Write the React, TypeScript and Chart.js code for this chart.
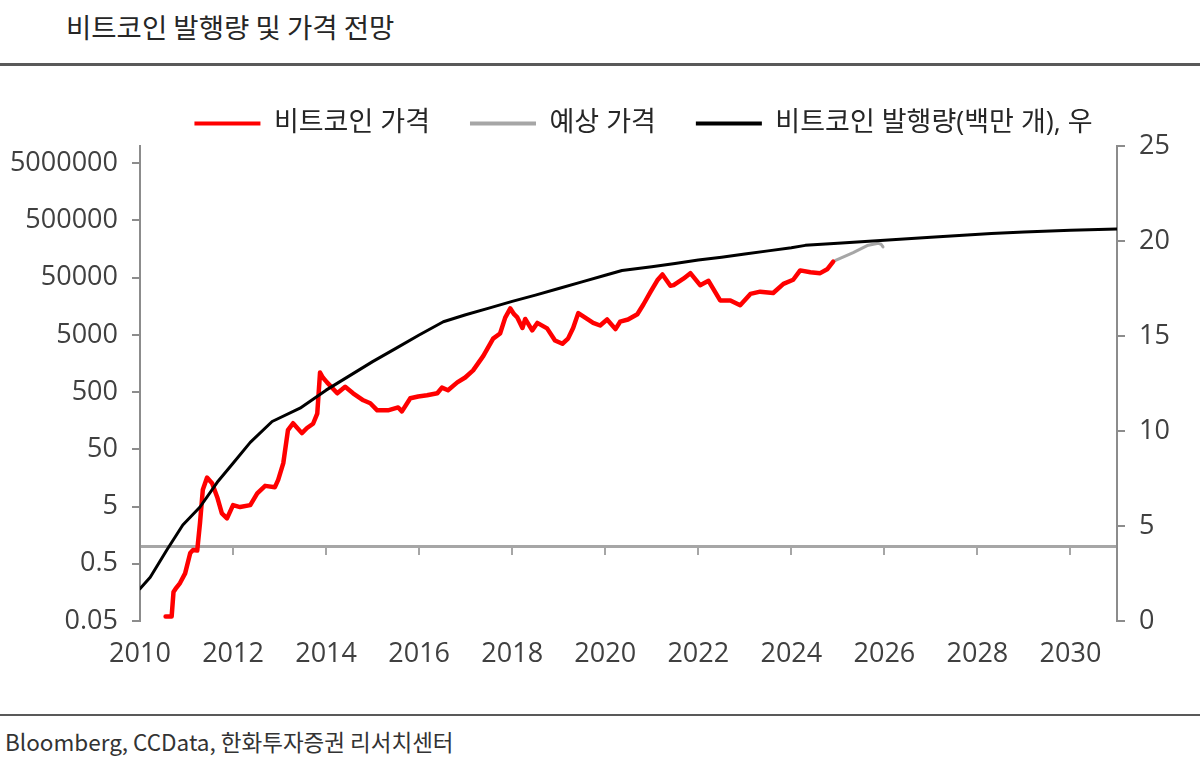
import React, { useEffect, useRef } from 'react';
import { Chart, registerables } from 'chart.js';

Chart.register(...registerables);

const titleText = '비트코인 발행량 및 가격 전망';
const sourceText = 'Bloomberg, CCData, 한화투자증권 리서치센터';
const legendLabels = ['비트코인 가격', '예상 가격', '비트코인 발행량(백만 개), 우'];

const xTickYears = [2010, 2012, 2014, 2016, 2018, 2020, 2022, 2024, 2026, 2028, 2030];
const leftTickValues = [0.05, 0.5, 5, 50, 500, 5000, 50000, 500000, 5000000];
const rightTickValues = [0, 5, 10, 15, 20, 25];

// Bitcoin price (USD, log scale, left axis)
const priceYears = [
  2010.55, 2010.68, 2010.72, 2010.78, 2010.86, 2010.97, 2011.08, 2011.14, 2011.23, 2011.29,
  2011.35, 2011.44, 2011.55, 2011.66, 2011.76, 2011.87, 2012.0, 2012.15, 2012.37, 2012.52,
  2012.69, 2012.9, 2012.97, 2013.08, 2013.18, 2013.29, 2013.48, 2013.59, 2013.72, 2013.81,
  2013.87, 2013.93, 2014.02, 2014.24, 2014.41, 2014.58, 2014.8, 2014.95, 2015.1, 2015.33,
  2015.55, 2015.63, 2015.81, 2015.98, 2016.17, 2016.39, 2016.49, 2016.62, 2016.82, 2016.99,
  2017.16, 2017.38, 2017.59, 2017.74, 2017.85, 2017.96, 2018.04, 2018.11, 2018.22, 2018.28,
  2018.43, 2018.54, 2018.75, 2018.92, 2019.08, 2019.2, 2019.31, 2019.42, 2019.61, 2019.74,
  2019.89, 2020.04, 2020.22, 2020.32, 2020.49, 2020.69, 2020.82, 2020.97, 2021.12, 2021.23,
  2021.4, 2021.47, 2021.68, 2021.83, 2022.04, 2022.22, 2022.47, 2022.69, 2022.9, 2023.12,
  2023.33, 2023.61, 2023.83, 2024.04, 2024.19, 2024.41, 2024.62, 2024.77, 2024.9,
];
const priceValues = [
  0.06, 0.06, 0.16, 0.19, 0.23, 0.34, 0.77, 0.87, 0.85, 2.6,
  9.8, 16, 12.8, 7.3, 3.8, 3.1, 5.3, 4.9, 5.3, 8.5,
  11.5, 10.9, 14.6, 28.7, 108, 143, 96, 118, 140, 210,
  1100, 900, 740, 477, 620, 477, 360, 320, 240, 240,
  270, 230, 390, 420, 440, 477, 600, 540, 740, 900,
  1200, 2150, 4300, 5300, 10000, 14500, 11500, 10100, 6600, 9500,
  6000, 8100, 6500, 4000, 3500, 4300, 6600, 12000, 9500, 8100,
  7300, 9300, 6300, 8500, 9300, 11500, 17000, 28000, 45000, 57000,
  36000, 37000, 48000, 60000, 37000, 44000, 20000, 20000, 16500, 26000,
  28500, 27000, 39000, 46000, 67000, 62000, 60000, 70000, 95000,
];

// Forecast price (USD, left axis)
const forecastYears = [2024.9, 2024.95, 2025.33, 2025.63, 2025.87, 2025.93, 2025.97];
const forecastValues = [95000, 100000, 137000, 182000, 199000, 192000, 172000];

// Bitcoin supply (million coins, right axis)
const supplyYears = [
  2010.0, 2010.22, 2010.58, 2010.92, 2011.29, 2011.66, 2012.0, 2012.37, 2012.84, 2013.44,
  2014.0, 2014.5, 2015.0, 2015.5, 2016.0, 2016.52, 2017.0, 2017.5, 2018.0, 2018.5,
  2019.0, 2019.5, 2020.0, 2020.36, 2021.0, 2021.5, 2022.0, 2022.5, 2023.0, 2023.5,
  2024.0, 2024.3, 2025.0, 2026.0, 2027.0, 2028.3, 2029.0, 2030.0, 2031.0,
];
const supplyValues = [
  1.7, 2.3, 3.75, 5.05, 6.0, 7.3, 8.3, 9.4, 10.5, 11.2,
  12.15, 12.9, 13.65, 14.35, 15.05, 15.75, 16.12, 16.47, 16.82, 17.15,
  17.5, 17.85, 18.2, 18.45, 18.65, 18.82, 19.0, 19.15, 19.32, 19.48,
  19.65, 19.77, 19.88, 20.04, 20.2, 20.4, 20.47, 20.56, 20.63,
];

const FONT = "'Open Sans', 'Noto Sans CJK KR', sans-serif";
const KR_FONT = "'Noto Sans CJK KR', 'Noto Sans', sans-serif";
const LEGEND_HEIGHT = 76;
const CANVAS_W = 1287;
const CANVAS_H = 640;
const TICK_SIZE = 27;

const toPoints = (xs: number[], ys: number[]) => xs.map((x, i) => ({ x, y: ys[i] }));

const legendHeightPlugin = {
  id: 'legendHeight',
  afterInit(chart: any) {
    const lg = chart.legend;
    if (!lg) return;
    const orig = lg.fit.bind(lg);
    lg.fit = function () {
      orig();
      this.height = LEGEND_HEIGHT;
    };
  },
};

export default function App() {
  const ref = useRef<HTMLCanvasElement>(null);

  useEffect(() => {
    if (!ref.current) return;
    Chart.defaults.font.family = FONT;
    const setXTicks = (s: any) => {
      s.ticks = xTickYears.map((v) => ({ value: v }));
    };
    const chart = new Chart(ref.current, {
      type: 'line',
      data: {
        datasets: [
          {
            label: legendLabels[0],
            data: toPoints(priceYears, priceValues),
            borderColor: '#ff0000',
            backgroundColor: '#ff0000',
            borderWidth: 4.5,
            xAxisID: 'x',
            yAxisID: 'y',
            order: 1,
          },
          {
            label: legendLabels[1],
            data: toPoints(forecastYears, forecastValues),
            borderColor: '#a6a6a6',
            backgroundColor: '#a6a6a6',
            borderWidth: 3,
            xAxisID: 'x',
            yAxisID: 'y',
            order: 2,
          },
          {
            label: legendLabels[2],
            data: toPoints(supplyYears, supplyValues),
            borderColor: '#000000',
            backgroundColor: '#000000',
            borderWidth: 3,
            xAxisID: 'x',
            yAxisID: 'y2',
            order: 0,
          },
        ] as any,
      },
      options: {
        responsive: false,
        animation: false,
        layout: { padding: { left: 0, right: 0, top: 0, bottom: 0 } },
        elements: {
          point: { radius: 0 },
          line: { tension: 0, borderJoinStyle: 'round', borderCapStyle: 'round' },
        },
        plugins: {
          legend: {
            position: 'top',
            labels: {
              boxWidth: 66,
              boxHeight: 4,
              padding: 40,
              color: '#262626',
              font: { size: 27 },
              sort: (a: any, b: any) => a.datasetIndex - b.datasetIndex,
              generateLabels: (c: any) =>
                (Chart.defaults.plugins.legend.labels as any)
                  .generateLabels(c)
                  .map((l: any) => ({ ...l, lineWidth: 0 })),
            },
          },
          tooltip: { enabled: false },
        },
        scales: {
          x: {
            type: 'linear',
            position: 'bottom',
            min: 2010,
            max: 2031,
            afterBuildTicks: setXTicks,
            afterFit: (s: any) => {
              s.height = 89;
            },
            grid: { display: false, drawTicks: false },
            border: { display: false },
            ticks: {
              color: '#404040',
              font: { size: TICK_SIZE },
              padding: 17,
              maxRotation: 0,
              autoSkip: false,
              callback: (v: any) => String(v),
            },
          },
          xMid: {
            type: 'linear',
            axis: 'x',
            position: { y: 1 },
            min: 2010,
            max: 2031,
            afterBuildTicks: setXTicks,
            grid: { drawOnChartArea: false, drawTicks: true, tickLength: 7, color: '#a6a6a6', lineWidth: 2 },
            border: { display: true, color: '#a6a6a6', width: 3 },
            ticks: { display: false },
          },
          y: {
            type: 'logarithmic',
            position: 'left',
            min: 0.05,
            max: 10000000,
            afterBuildTicks: (s: any) => {
              s.ticks = leftTickValues.map((v) => ({ value: v }));
            },
            afterFit: (s: any) => {
              s.width = 140;
            },
            grid: { drawOnChartArea: false, tickLength: 8, color: '#8c8c8c', lineWidth: 2 },
            border: { color: '#8c8c8c', width: 2 },
            ticks: {
              color: '#404040',
              font: { size: TICK_SIZE },
              padding: 14,
              autoSkip: false,
              callback: (v: any) => String(v),
            },
          },
          y2: {
            type: 'linear',
            position: 'right',
            min: 0,
            max: 25,
            afterBuildTicks: (s: any) => {
              s.ticks = rightTickValues.map((v) => ({ value: v }));
            },
            afterFit: (s: any) => {
              s.width = CANVAS_W - 1117;
            },
            grid: { drawOnChartArea: false, tickLength: 8, color: '#8c8c8c', lineWidth: 2 },
            border: { color: '#8c8c8c', width: 2 },
            ticks: {
              color: '#404040',
              font: { size: TICK_SIZE },
              padding: 14,
              autoSkip: false,
              callback: (v: any) => String(v),
            },
          },
        } as any,
      },
      plugins: [legendHeightPlugin],
    });
    return () => chart.destroy();
  }, []);

  return (
    <div
      style={{
        position: 'absolute',
        left: 0,
        top: 0,
        width: 1200,
        height: 760,
        background: '#ffffff',
        overflow: 'hidden',
      }}
    >
      <div
        style={{
          position: 'absolute',
          left: 66,
          top: 12,
          fontFamily: KR_FONT,
          fontSize: 27.5,
          lineHeight: '28px',
          color: '#262626',
          whiteSpace: 'nowrap',
        }}
      >
        {titleText}
      </div>
      <div style={{ position: 'absolute', left: 0, top: 63, width: 1200, height: 3, background: '#595959' }} />
      <canvas
        ref={ref}
        width={CANVAS_W}
        height={CANVAS_H}
        style={{ position: 'absolute', left: 0, top: 70, width: CANVAS_W, height: CANVAS_H }}
      />
      <div style={{ position: 'absolute', left: 0, top: 714, width: 1200, height: 2, background: '#595959' }} />
      <div
        style={{
          position: 'absolute',
          left: 5,
          top: 730,
          fontFamily: KR_FONT,
          fontSize: 22.5,
          lineHeight: '23px',
          color: '#333333',
          whiteSpace: 'nowrap',
        }}
      >
        {sourceText}
      </div>
    </div>
  );
}
